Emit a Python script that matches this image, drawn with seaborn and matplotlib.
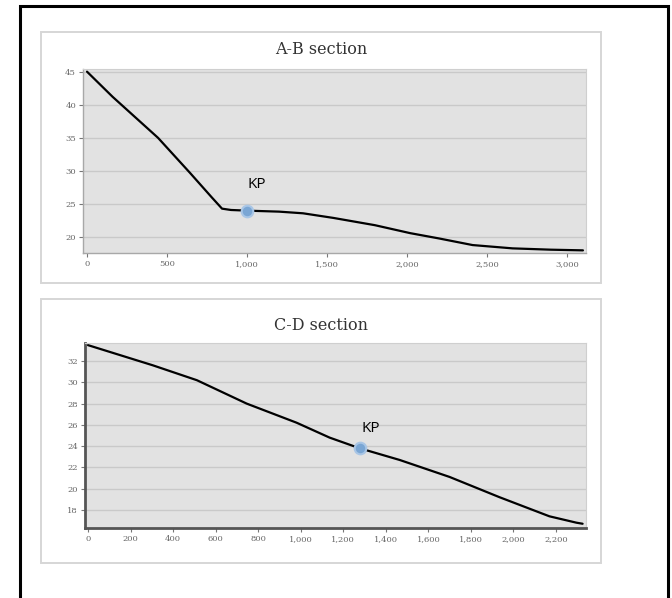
import matplotlib
matplotlib.use("Agg")
import matplotlib.pyplot as plt
from matplotlib.patches import Rectangle
from matplotlib.ticker import FuncFormatter, MultipleLocator
import seaborn as sns
import pandas as pd

# Longitudinal profile along section A-B
ab_distance = [0, 160, 444, 644, 780, 844, 900, 1000, 1200, 1350, 1540, 1800, 2020, 2200, 2410, 2660, 2900, 3100]
ab_level = [45.0, 41.2, 35.0, 29.7, 26.0, 24.3, 24.1, 24.0, 23.85, 23.6, 22.9, 21.8, 20.6, 19.8, 18.8, 18.3, 18.1, 18.0]
ab_kp = (1000, 24.0)

# Longitudinal profile along section C-D
cd_distance = [0, 305, 512, 746, 981, 1136, 1277, 1465, 1700, 1934, 2169, 2296, 2325]
cd_level = [33.5, 31.6, 30.2, 28.0, 26.2, 24.8, 23.8, 22.7, 21.1, 19.2, 17.4, 16.8, 16.7]
cd_kp = (1277, 23.8)

sns.set_theme(style="white")
plt.rcParams["font.family"] = ["DejaVu Serif", "Liberation Serif"]

W, H = 672, 598
fig = plt.figure(figsize=(W / 100, H / 100), dpi=100)
fig.patch.set_facecolor("white")


def fx(px):
    return px / W


def fy(py):
    return 1 - py / H


# outer frame
fig.add_artist(Rectangle((fx(20), fy(640)), fx(648), (640 - 6) / H, transform=fig.transFigure,
                         fill=False, edgecolor="black", linewidth=2.2, clip_on=False, zorder=-20))
# panel cards
for top, bottom in [(32, 283), (299, 563)]:
    fig.add_artist(Rectangle((fx(41), fy(bottom)), fx(560), (bottom - top) / H, transform=fig.transFigure,
                             facecolor="white", edgecolor="#d6d6d6", linewidth=1.4, zorder=-10))

comma = FuncFormatter(lambda v, p: f"{int(v):,}")


def style_axes(ax, spine_color, spine_width):
    ax.set_facecolor("#e2e2e2")
    ax.grid(True, axis="y", color="#c9c9c9", linewidth=1.0)
    ax.grid(False, axis="x")
    ax.set_axisbelow(True)
    for side in ["top", "right"]:
        ax.spines[side].set_color("#cfcfcf")
        ax.spines[side].set_linewidth(0.8)
    for side in ["left", "bottom"]:
        ax.spines[side].set_color(spine_color)
        ax.spines[side].set_linewidth(spine_width)
    ax.tick_params(axis="both", which="major", length=3, width=0.8, color="#777777",
                   labelsize=6, labelcolor="#666666", pad=2, left=True, bottom=True)
    ax.xaxis.set_major_formatter(comma)
    ax.set_xlabel("")
    ax.set_ylabel("")


# A-B section
ax1 = fig.add_axes([fx(83), fy(253), fx(503), 184 / H])
ab = pd.DataFrame({"distance": ab_distance, "level": ab_level})
sns.lineplot(data=ab, x="distance", y="level", ax=ax1, color="black", linewidth=1.6)
sns.scatterplot(x=[ab_kp[0]], y=[ab_kp[1]], ax=ax1, color="#7aa6d4", s=70, edgecolor="#a9c6e6",
                linewidth=1.5, zorder=5)
ax1.annotate("KP", ab_kp, xytext=(7, 19), textcoords="offset points", fontsize=11,
             family=["Open Sans", "DejaVu Sans"], color="black", ha="center", va="center")
ax1.set_xlim(-25, 3119)
ax1.set_ylim(17.6, 45.4)
ax1.xaxis.set_major_locator(MultipleLocator(500))
ax1.yaxis.set_major_locator(MultipleLocator(5))
style_axes(ax1, "#a8a8a8", 1.0)
fig.text(fx(321), fy(50), "A-B section", ha="center", va="center", fontsize=11.5, color="#333333")

# C-D section
ax2 = fig.add_axes([fx(85), fy(528), fx(501), 185 / H])
cd = pd.DataFrame({"distance": cd_distance, "level": cd_level})
sns.lineplot(data=cd, x="distance", y="level", ax=ax2, color="black", linewidth=1.6)
sns.scatterplot(x=[cd_kp[0]], y=[cd_kp[1]], ax=ax2, color="#7aa6d4", s=70, edgecolor="#a9c6e6",
                linewidth=1.5, zorder=5)
ax2.annotate("KP", cd_kp, xytext=(8, 14), textcoords="offset points", fontsize=11,
             family=["Open Sans", "DejaVu Sans"], color="black", ha="center", va="center")
ax2.set_xlim(-14, 2341)
ax2.set_ylim(16.3, 33.7)
ax2.xaxis.set_major_locator(MultipleLocator(200))
ax2.yaxis.set_major_locator(MultipleLocator(2))
style_axes(ax2, "#555555", 2.0)
fig.text(fx(321), fy(325), "C-D section", ha="center", va="center", fontsize=11.5, color="#333333")

fig.savefig("out.png", dpi=100, facecolor="white")
